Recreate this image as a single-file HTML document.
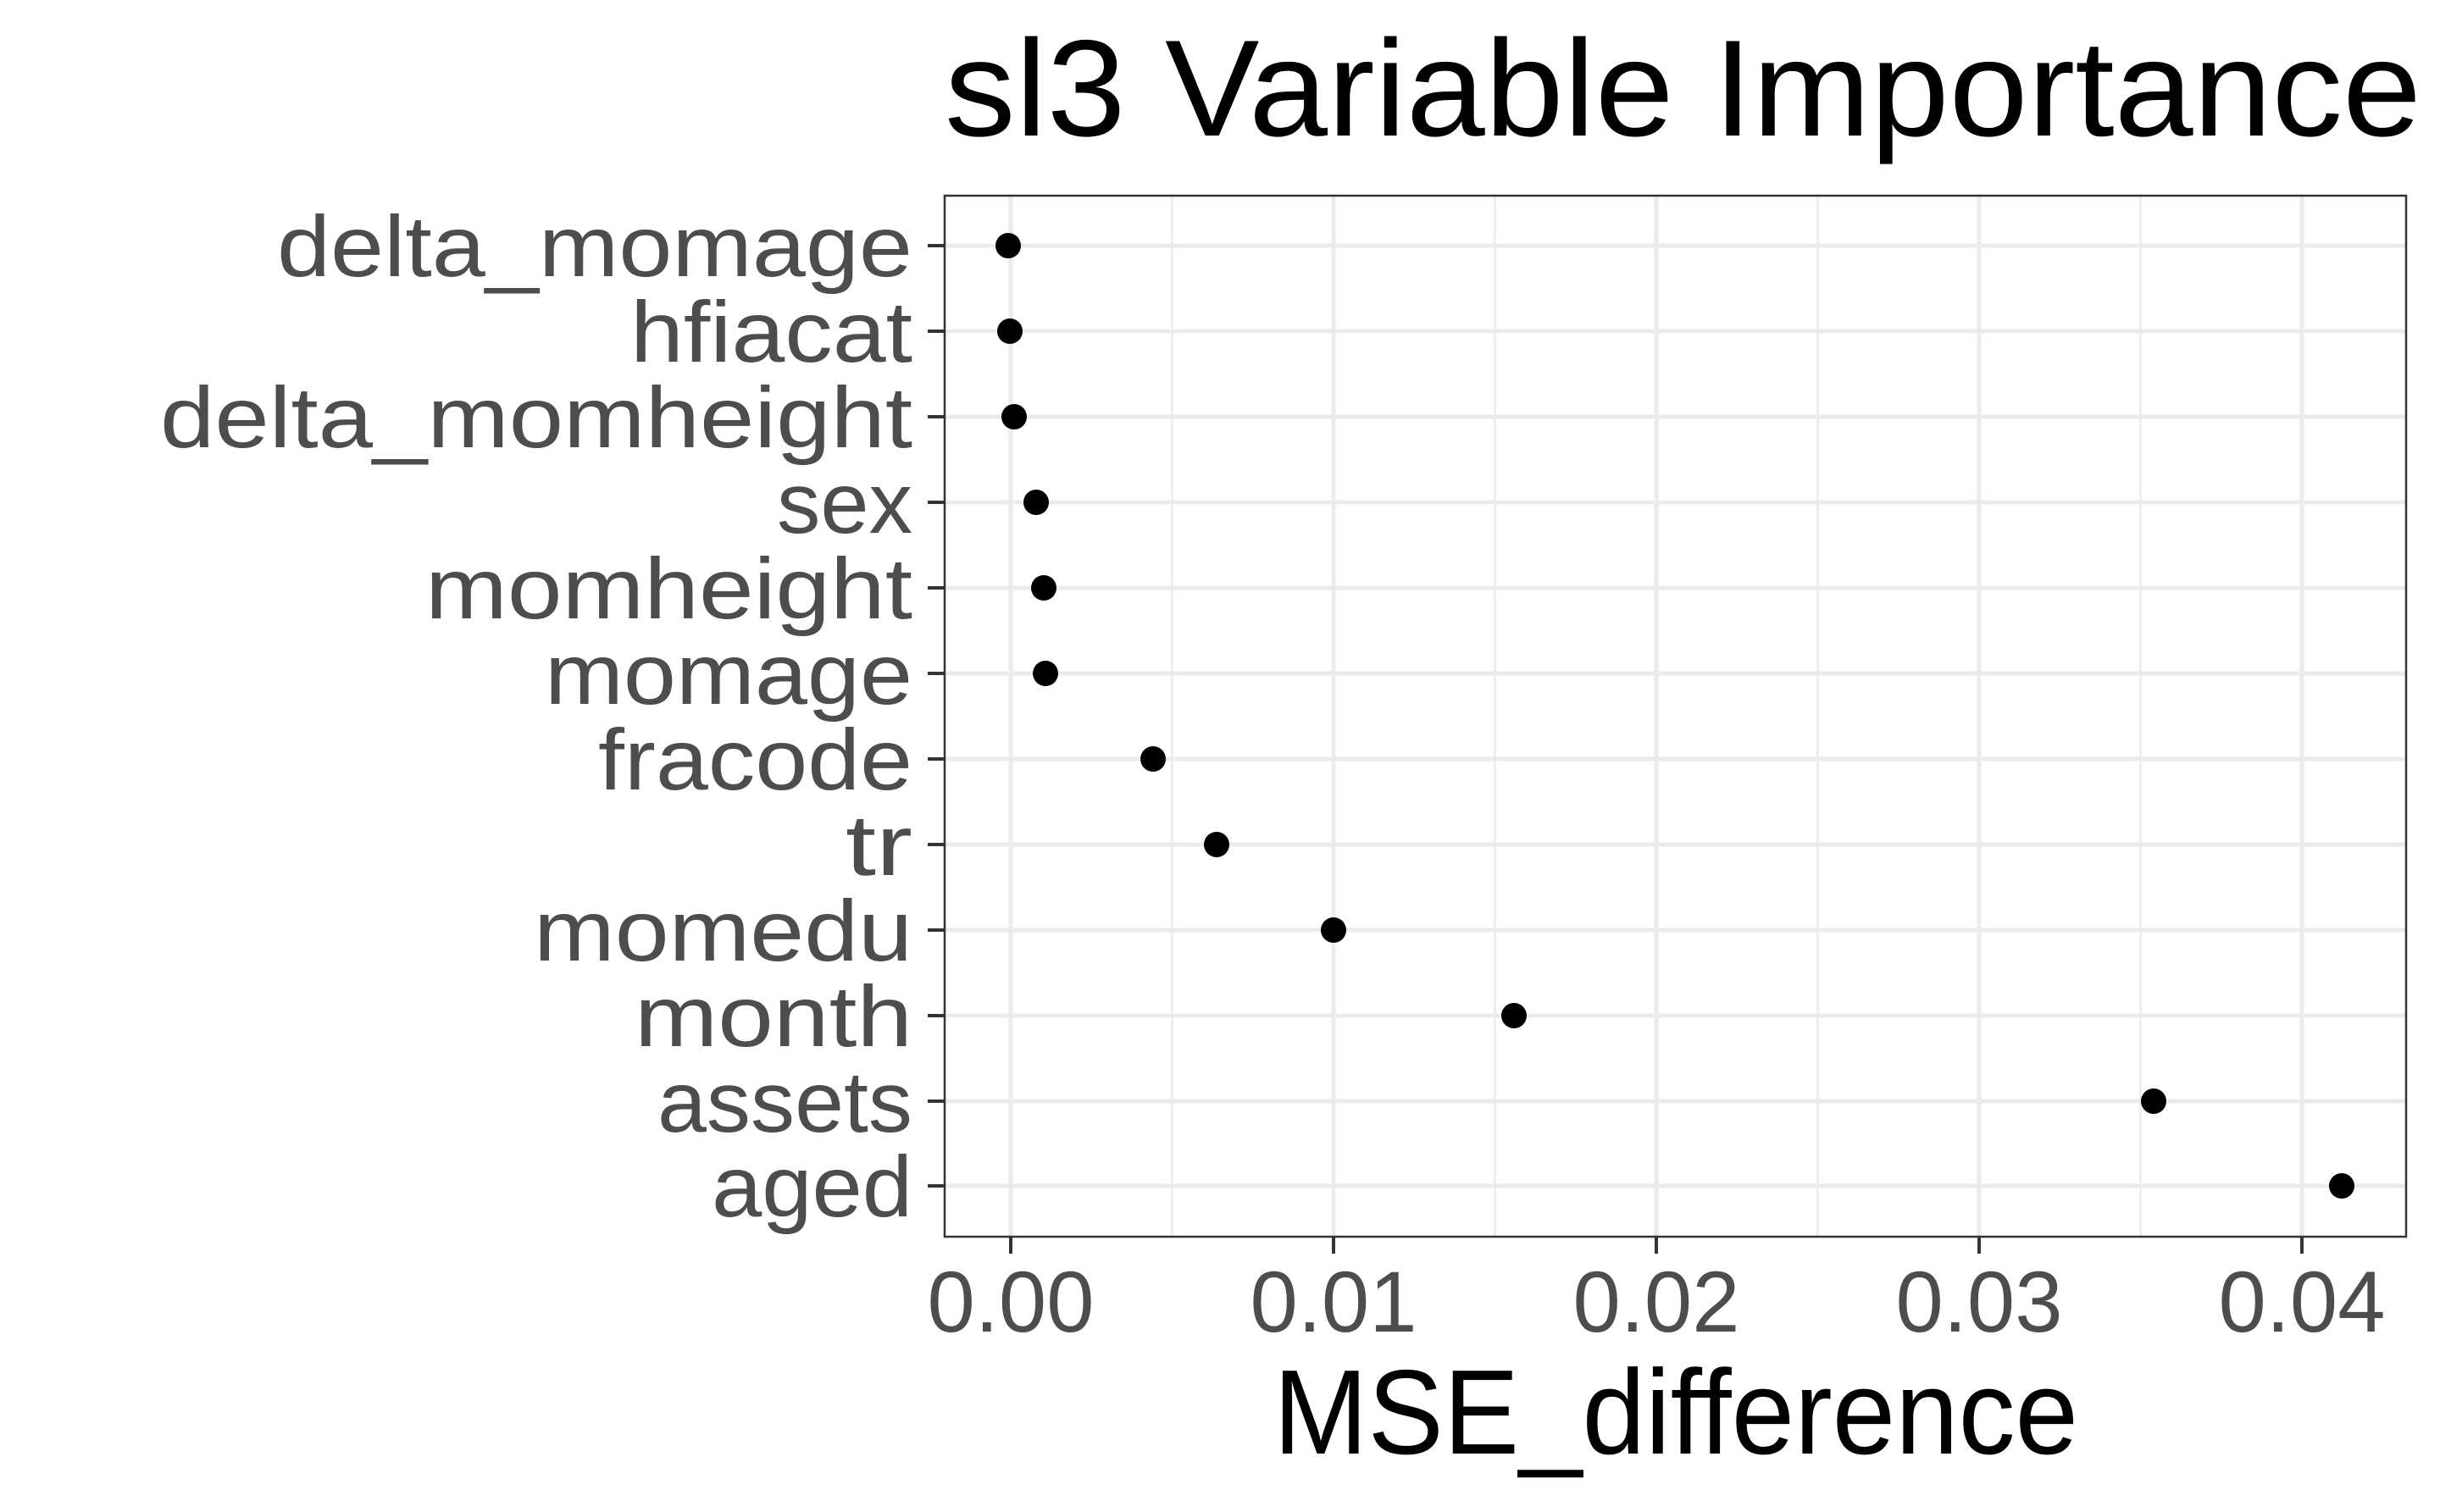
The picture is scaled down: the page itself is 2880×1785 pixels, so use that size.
<!DOCTYPE html>
<html><head><style>html,body{margin:0;padding:0;background:#fff;}svg{display:block;}</style></head>
<body>
<svg width="2880" height="1785" xmlns="http://www.w3.org/2000/svg" font-family="'Liberation Sans', sans-serif">
<rect width="2880" height="1785" fill="#fff"/>
<g stroke="#ebebeb" stroke-width="2.5">
<line x1="1383.5" y1="231" x2="1383.5" y2="1460"/>
<line x1="1764.5" y1="231" x2="1764.5" y2="1460"/>
<line x1="2145.5" y1="231" x2="2145.5" y2="1460"/>
<line x1="2526.5" y1="231" x2="2526.5" y2="1460"/>
</g>
<g stroke="#ebebeb" stroke-width="5">
<line x1="1193" y1="231" x2="1193" y2="1460"/>
<line x1="1574" y1="231" x2="1574" y2="1460"/>
<line x1="1955" y1="231" x2="1955" y2="1460"/>
<line x1="2336" y1="231" x2="2336" y2="1460"/>
<line x1="2717" y1="231" x2="2717" y2="1460"/>
<line x1="1115" y1="290" x2="2840" y2="290"/>
<line x1="1115" y1="391" x2="2840" y2="391"/>
<line x1="1115" y1="492" x2="2840" y2="492"/>
<line x1="1115" y1="593" x2="2840" y2="593"/>
<line x1="1115" y1="694" x2="2840" y2="694"/>
<line x1="1115" y1="795" x2="2840" y2="795"/>
<line x1="1115" y1="896" x2="2840" y2="896"/>
<line x1="1115" y1="997" x2="2840" y2="997"/>
<line x1="1115" y1="1098" x2="2840" y2="1098"/>
<line x1="1115" y1="1199" x2="2840" y2="1199"/>
<line x1="1115" y1="1300" x2="2840" y2="1300"/>
<line x1="1115" y1="1400" x2="2840" y2="1400"/>
</g>
<rect x="1115" y="231" width="1725" height="1229" fill="none" stroke="#333" stroke-width="2.5"/>
<g stroke="#333" stroke-width="4">
<line x1="1095" y1="290" x2="1115" y2="290"/><line x1="1095" y1="391" x2="1115" y2="391"/>
<line x1="1095" y1="492" x2="1115" y2="492"/><line x1="1095" y1="593" x2="1115" y2="593"/>
<line x1="1095" y1="694" x2="1115" y2="694"/><line x1="1095" y1="795" x2="1115" y2="795"/>
<line x1="1095" y1="896" x2="1115" y2="896"/><line x1="1095" y1="997" x2="1115" y2="997"/>
<line x1="1095" y1="1098" x2="1115" y2="1098"/><line x1="1095" y1="1199" x2="1115" y2="1199"/>
<line x1="1095" y1="1300" x2="1115" y2="1300"/><line x1="1095" y1="1400" x2="1115" y2="1400"/>
<line x1="1193" y1="1460" x2="1193" y2="1480"/><line x1="1574" y1="1460" x2="1574" y2="1480"/>
<line x1="1955" y1="1460" x2="1955" y2="1480"/><line x1="2336" y1="1460" x2="2336" y2="1480"/>
<line x1="2717" y1="1460" x2="2717" y2="1480"/>
</g>
<g fill="#000">
<circle cx="1190" cy="290" r="15"/><circle cx="1192" cy="391" r="15"/>
<circle cx="1197" cy="492" r="15"/><circle cx="1223" cy="593" r="15"/>
<circle cx="1232" cy="694" r="15"/><circle cx="1234" cy="795" r="15"/>
<circle cx="1361" cy="896" r="15"/><circle cx="1436" cy="997" r="15"/>
<circle cx="1574" cy="1098" r="15"/><circle cx="1787" cy="1199" r="15"/>
<circle cx="2542" cy="1300" r="15"/><circle cx="2764" cy="1400" r="15"/>
</g>
<g fill="#4d4d4d" font-size="102" text-anchor="end">
<text x="1077" y="326" textLength="750" lengthAdjust="spacingAndGlyphs">delta_momage</text>
<text x="1077" y="427" textLength="333" lengthAdjust="spacingAndGlyphs">hfiacat</text>
<text x="1077" y="528" textLength="888" lengthAdjust="spacingAndGlyphs">delta_momheight</text>
<text x="1077" y="629" textLength="160" lengthAdjust="spacingAndGlyphs">sex</text>
<text x="1077" y="730" textLength="575" lengthAdjust="spacingAndGlyphs">momheight</text>
<text x="1077" y="831" textLength="434" lengthAdjust="spacingAndGlyphs">momage</text>
<text x="1077" y="932" textLength="371" lengthAdjust="spacingAndGlyphs">fracode</text>
<text x="1077" y="1033" textLength="79" lengthAdjust="spacingAndGlyphs">tr</text>
<text x="1077" y="1134" textLength="447" lengthAdjust="spacingAndGlyphs">momedu</text>
<text x="1077" y="1235" textLength="328" lengthAdjust="spacingAndGlyphs">month</text>
<text x="1077" y="1336" textLength="301" lengthAdjust="spacingAndGlyphs">assets</text>
<text x="1077" y="1436" textLength="237" lengthAdjust="spacingAndGlyphs">aged</text>
</g>
<g fill="#4d4d4d" font-size="102" text-anchor="middle">
<text x="1193" y="1572" textLength="197" lengthAdjust="spacingAndGlyphs">0.00</text>
<text x="1574" y="1572" textLength="197" lengthAdjust="spacingAndGlyphs">0.01</text>
<text x="1955" y="1572" textLength="197" lengthAdjust="spacingAndGlyphs">0.02</text>
<text x="2336" y="1572" textLength="197" lengthAdjust="spacingAndGlyphs">0.03</text>
<text x="2717" y="1572" textLength="197" lengthAdjust="spacingAndGlyphs">0.04</text>
</g>
<text x="1978" y="1716" font-size="142" text-anchor="middle" fill="#000" textLength="950" lengthAdjust="spacingAndGlyphs">MSE_difference</text>
<text x="1115" y="160" font-size="162" fill="#000" textLength="1743" lengthAdjust="spacingAndGlyphs">sl3 Variable Importance</text>
</svg>
</body></html>
